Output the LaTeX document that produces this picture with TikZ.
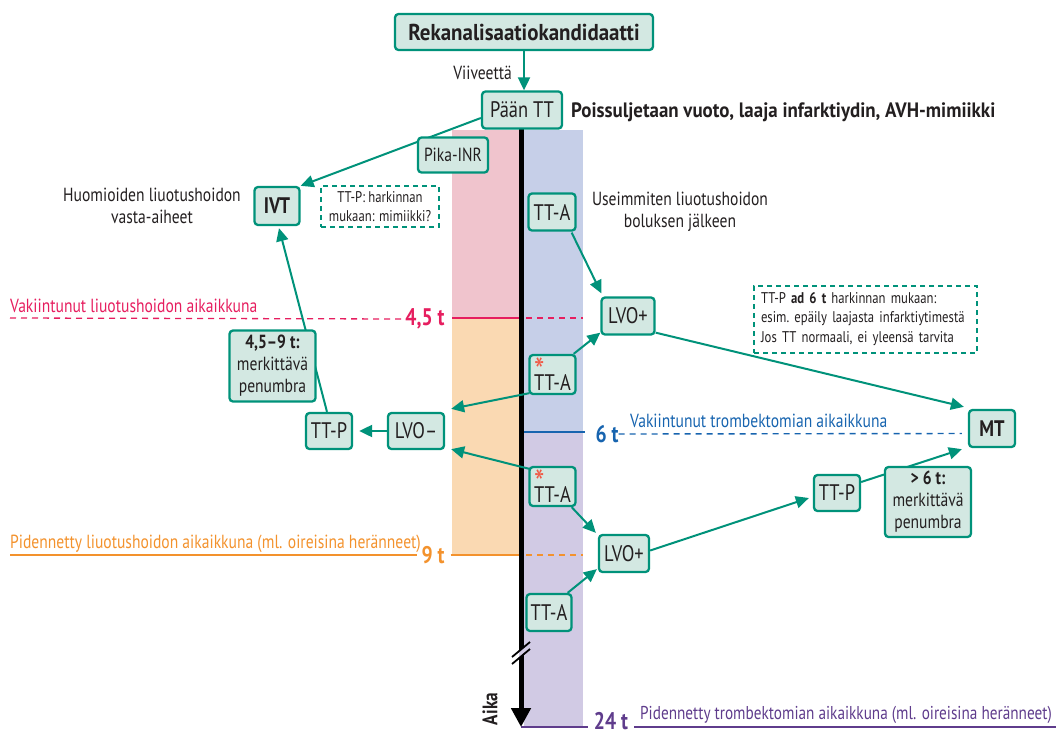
\documentclass[tikz,border=0pt]{standalone}
\usepackage{fontspec}
\setmainfont{PT Sans}[FakeStretch=0.82]
\newfontfamily\widefont{PT Sans}[FakeStretch=0.91]
\usetikzlibrary{arrows.meta,calc}
\pgfdeclarelayer{bands}
\pgfdeclarelayer{lines}
\pgfsetlayers{bands,lines,main}
\definecolor{teal}{RGB}{0,146,122}
\definecolor{boxfill}{RGB}{211,232,226}
\definecolor{txt}{RGB}{35,31,32}
\definecolor{pinkc}{RGB}{230,30,95}
\definecolor{pinkband}{RGB}{240,196,205}
\definecolor{orangec}{RGB}{243,146,45}
\definecolor{orangeband}{RGB}{250,217,178}
\definecolor{blueband}{RGB}{198,207,232}
\definecolor{lavband}{RGB}{209,202,228}
\definecolor{bluec}{RGB}{23,100,175}
\definecolor{purplec}{RGB}{95,60,140}
\definecolor{astc}{RGB}{240,90,70}
\newcommand\bxfont{\fontsize{22.5}{24}\selectfont}
\newcommand\lbfont{\fontsize{19}{22}\selectfont}
\newcommand\smfont{\fontsize{15.5}{19}\selectfont}
\newcommand\tmfont{\fontsize{24}{26}\selectfont\bfseries}
\newcommand\astglyph{\textcolor{astc}{\fontsize{36}{36}\selectfont\raisebox{-15pt}[10pt][0pt]{*}}}
\begin{document}
\begin{tikzpicture}[x=1pt,y=-1pt,
  every node/.style={text=txt},
  box/.style={draw=teal, fill=boxfill, line width=2.3pt, rounded corners=3.5pt, inner sep=0pt, align=center, font=\bxfont},
  dbox/.style={draw=teal, line width=1.4pt, dash pattern=on 5pt off 4pt, inner sep=0pt, font=\smfont},
  lbl/.style={inner sep=0pt, font=\lbfont, align=center},
  tlbl/.style={inner sep=0pt, font=\tmfont},
  conn/.style={draw=teal, line width=2pt},
  arr/.style={conn, -{Triangle[length=13pt,width=12pt]}}
]
\useasboundingbox (0,0) rectangle (1059,736);

% ---- nodes
\node[box, minimum width=258, minimum height=36, font=\widefont\fontsize{23}{25}\selectfont\bfseries] (title) at (524,32) {Rekanalisaatiokandidaatti};
\node[lbl, anchor=east] (viive) at (512,73) {Viiveettä};
\node[box, minimum width=80, minimum height=37] (paan) at (522,110) {Pään TT};
\node[lbl, anchor=west, font=\widefont\fontsize{20.8}{22}\selectfont\bfseries] (pois) at (571,112) {Poissuljetaan vuoto, laaja infarktiydin, AVH-mimiikki};
\node[box, minimum width=70, minimum height=35, font=\lbfont] (pika) at (453,155) {Pika-INR};
\node[box, minimum width=45, minimum height=38, font=\bxfont\bfseries] (ivt) at (277,206) {IVT};
\node[lbl] (huom) at (152,206) {Huomioiden liuotushoidon\\vasta-aiheet};
\node[dbox, minimum width=118, minimum height=41, align=center] (dash1) at (380,206.5) {TT-P: harkinnan\\mukaan: mimiikki?};
\node[box, minimum width=47, minimum height=37] (ttA1) at (552,212) {TT-A};
\node[lbl] (usei) at (680,212) {Useimmiten liuotushoidon\\boluksen jälkeen};
\node[box, minimum width=53, minimum height=37] (lvo1) at (628,316) {LVO+};
\node[dbox, minimum width=223, minimum height=67, align=left, text width=209] (dash2) at (865.5,319.5) {TT-P \textbf{ad 6 t} harkinnan mukaan:\\esim.\ epäily laajasta infarktiytimestä\\[1pt]Jos TT normaali, ei yleensä tarvita};
\node[box, minimum width=46, minimum height=37, font=\bxfont\bfseries] (mt) at (992,428.5) {MT};
\node[box, minimum width=86, minimum height=71, font=\lbfont] (b459) at (272.5,366) {\textbf{4,5–9 t:}\\merkittävä\\penumbra};
\node[box, minimum width=46, minimum height=36] (ttp1) at (329,431) {TT-P};
\node[box, minimum width=56, minimum height=36] (lvom) at (416,431) {LVO–};
\node[box, minimum width=46, minimum height=39, align=left] (ttA2) at (552.5,374.5) {\astglyph\\[-2pt]TT-A};
\node[box, minimum width=46, minimum height=39, align=left] (ttA3) at (552.5,486.5) {\astglyph\\[-2pt]TT-A};
\node[box, minimum width=50, minimum height=37] (lvo2) at (624,553.5) {LVO+};
\node[box, minimum width=46, minimum height=36] (ttp2) at (837,493) {TT-P};
\node[box, minimum width=86, minimum height=70, font=\lbfont] (b6) at (928,502) {\textbf{> 6 t:}\\merkittävä\\penumbra};
\node[box, minimum width=45, minimum height=37] (ttA4) at (549,612.5) {TT-A};

% time labels
\node[tlbl, text=pinkc] (t45) at (425,319) {4,5 t};
\node[tlbl, text=bluec] (t6) at (607,434) {6 t};
\node[tlbl, text=orangec] (t9) at (433,555) {9 t};
\node[tlbl, text=purplec] (t24) at (611,721) {24 t};
\node[lbl, anchor=base west, text=pinkc] (l45) at (10,312) {Vakiintunut liuotushoidon aikaikkuna};
\node[lbl, anchor=base west, text=bluec] (l6) at (630,427) {Vakiintunut trombektomian aikaikkuna};
\node[lbl, anchor=base west, text=orangec] (l9) at (10,548) {Pidennetty liuotushoidon aikaikkuna (ml. oireisina heränneet)};
\node[lbl, anchor=base west, text=purplec, font=\fontsize{18.6}{21}\selectfont] (l24) at (640,719) {Pidennetty trombektomian aikaikkuna (ml. oireisina heränneet)};
\node[inner sep=0pt, rotate=90, font=\fontsize{21}{22}\selectfont\bfseries] (aika) at (490,709) {Aika};

% ---- bands
\begin{pgfonlayer}{bands}
\fill[pinkband] (452,130) rectangle (519,318);
\fill[orangeband] (452,318) rectangle (519,555);
\fill[blueband] (524,130) rectangle (583,432);
\fill[lavband] (524,432) rectangle (583,727);
\end{pgfonlayer}

% ---- lines
\begin{pgfonlayer}{lines}
% pink 4,5 t
\draw[pinkc, line width=1.3pt, dash pattern=on 6pt off 5pt] (10,318) -- (t45.west);
\draw[pinkc, line width=2.6pt] (452,318) -- (519,318);
\draw[pinkc, line width=1.3pt, dash pattern=on 6pt off 5pt] (526,318) -- (583,318);
% blue 6 t
\draw[bluec, line width=2.6pt] (521,432) -- (585,432);
\draw[bluec, line width=1.4pt, dash pattern=on 6pt off 5pt] (t6.east) -- ($(mt.west)+(-6,5)$);
% orange 9 t
\draw[orangec, line width=2.6pt] (10,555) -- ($(t9.west)+(-4,0)$);
\draw[orangec, line width=2.6pt] ($(t9.east)+(6,0)$) -- (519,555);
\draw[orangec, line width=1.3pt, dash pattern=on 6pt off 5pt] (526,555) -- (583,555);
% purple 24 t
\draw[purplec, line width=2.6pt] (521,727) -- ($(t24.west)+(-6,6)$);
\draw[purplec, line width=2.6pt] ($(t24.east)+(6,6)$) -- (1056,727);
% timeline
\coordinate (tl0) at (521,129);
\coordinate (tl1) at (521,727);
\draw[black, line width=5pt, -{Triangle[length=19pt,width=19pt]}] (tl0) -- (tl1);
\fill[lavband] (518,652) -- (530,642) -- (530,648) -- (518,658) -- cycle;
\fill[white] (512,657) -- (519,651) -- (519,657) -- (512,663) -- cycle;
\draw[black, line width=1.8pt] (512,657) -- (530,642);
\draw[black, line width=1.8pt] (512,664) -- (530,649);
% connectors
\draw[arr] (title.south) -- (title.south |- paan.north);
\draw[arr] ($(paan.west)+(0,8)$) -- (ivt.north east);
\draw[arr] ($(ttp1.north)+(-2,0)$) -- ($(ivt.south)+(2,2)$);
\draw[arr] (lvom.west) -- ($(ttp1.east)+(6,0)$);
\draw[arr] ($(ttA2.south west)+(1,-2)$) -- ($(lvom.north east)+(6,-3)$);
\draw[arr] ($(ttA3.north west)+(1,3)$) -- ($(lvom.south east)+(6,-1)$);
\draw[arr] ($(ttA1.south east)+(-5,1)$) -- ($(lvo1.north west)+(1,-3)$);
\draw[arr] ($(ttA2.north east)+(-3,0)$) -- ($(lvo1.south west)+(0,-3)$);
\draw[arr] ($(lvo1.south east)+(0,-3)$) -- ($(mt.north west)+(-4,-2)$);
\draw[arr] ($(ttA3.south east)+(-5,0)$) -- ($(lvo2.north west)+(-2,-1)$);
\draw[arr] ($(ttA4.north east)+(-5,0)$) -- ($(lvo2.south west)+(-1,-4)$);
\draw[arr] ($(lvo2.east)+(0,-3)$) -- ($(ttp2.west)+(-4,5)$);
\draw[arr] ($(ttp2.east)+(0,-11)$) -- ($(mt.south west)+(-6,1)$);
\end{pgfonlayer}
\end{tikzpicture}
\end{document}
